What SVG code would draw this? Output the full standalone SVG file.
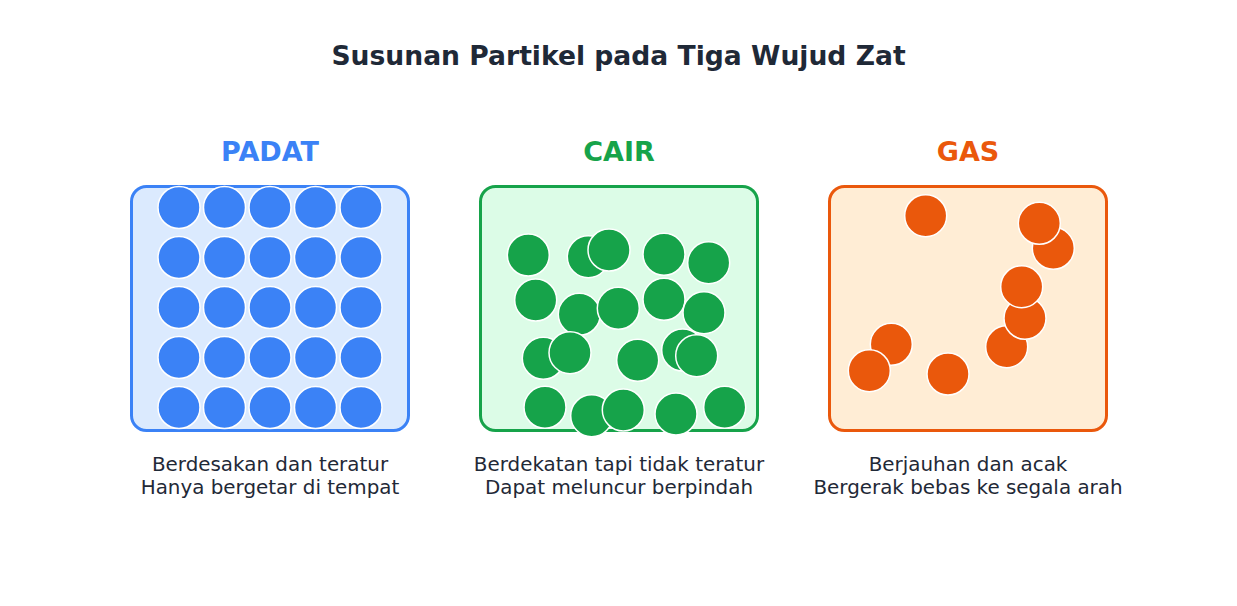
<svg xmlns="http://www.w3.org/2000/svg" width="1237" height="606" viewBox="0 0 1237 606">
<style>
  .title { font-family: "DejaVu Sans", sans-serif; font-weight: bold; font-size: 26.6px; fill: #1f2937; text-anchor: middle; }
  .head { font-family: "DejaVu Sans", sans-serif; font-weight: bold; font-size: 27px; text-anchor: middle; }
  .desc { font-family: "DejaVu Sans", sans-serif; font-size: 19.9px; fill: #1f2937; text-anchor: middle; }
  .box { stroke-width: 3; }
  .p circle { stroke: #ffffff; stroke-width: 1.5; }
  .solid .box { fill: #dbeafe; stroke: #3b82f6; }
  .solid circle { fill: #3b82f6; }
  .liquid .box { fill: #dcfce7; stroke: #16a34a; }
  .liquid circle { fill: #16a34a; }
  .gas .box { fill: #ffedd5; stroke: #ea580c; }
  .gas circle { fill: #ea580c; }
</style>
<rect width="1237" height="606" fill="#ffffff"/>
<text class="title" x="618.5" y="65">Susunan Partikel pada Tiga Wujud Zat</text>

<g id="padat" class="solid">
  <text class="head" x="270" y="161" fill="#3b82f6">PADAT</text>
  <rect class="box" x="131.5" y="186.5" width="277" height="244" rx="15"/>
  <g class="p">
    <circle cx="179" cy="207.5" r="21"/><circle cx="224.5" cy="207.5" r="21"/><circle cx="270" cy="207.5" r="21"/><circle cx="315.5" cy="207.5" r="21"/><circle cx="361" cy="207.5" r="21"/>
    <circle cx="179" cy="257.5" r="21"/><circle cx="224.5" cy="257.5" r="21"/><circle cx="270" cy="257.5" r="21"/><circle cx="315.5" cy="257.5" r="21"/><circle cx="361" cy="257.5" r="21"/>
    <circle cx="179" cy="307.5" r="21"/><circle cx="224.5" cy="307.5" r="21"/><circle cx="270" cy="307.5" r="21"/><circle cx="315.5" cy="307.5" r="21"/><circle cx="361" cy="307.5" r="21"/>
    <circle cx="179" cy="357.5" r="21"/><circle cx="224.5" cy="357.5" r="21"/><circle cx="270" cy="357.5" r="21"/><circle cx="315.5" cy="357.5" r="21"/><circle cx="361" cy="357.5" r="21"/>
    <circle cx="179" cy="407.5" r="21"/><circle cx="224.5" cy="407.5" r="21"/><circle cx="270" cy="407.5" r="21"/><circle cx="315.5" cy="407.5" r="21"/><circle cx="361" cy="407.5" r="21"/>
  </g>
  <text class="desc" x="270" y="471">Berdesakan dan teratur</text>
  <text class="desc" x="270" y="494">Hanya bergetar di tempat</text>
</g>

<g id="cair" class="liquid">
  <text class="head" x="619" y="161" fill="#16a34a">CAIR</text>
  <rect class="box" x="480.5" y="186.5" width="277" height="244" rx="15"/>
  <g class="p">
    <circle cx="528.3" cy="255" r="21"/>
    <circle cx="588.3" cy="256.7" r="21"/>
    <circle cx="609" cy="250" r="21"/>
    <circle cx="664" cy="254.3" r="21"/>
    <circle cx="708.7" cy="262.7" r="21"/>
    <circle cx="535.7" cy="300" r="21"/>
    <circle cx="579.3" cy="314.3" r="21"/>
    <circle cx="618.3" cy="308.3" r="21"/>
    <circle cx="664" cy="299.3" r="21"/>
    <circle cx="704" cy="312.7" r="21"/>
    <circle cx="543.3" cy="358.3" r="21"/>
    <circle cx="570" cy="352.7" r="21"/>
    <circle cx="637.7" cy="360.3" r="21"/>
    <circle cx="682.7" cy="350" r="21"/>
    <circle cx="696.7" cy="355.7" r="21"/>
    <circle cx="545" cy="407.3" r="21"/>
    <circle cx="591.7" cy="415.7" r="21"/>
    <circle cx="623.3" cy="410" r="21"/>
    <circle cx="676" cy="414" r="21"/>
    <circle cx="724.7" cy="407.3" r="21"/>
  </g>
  <text class="desc" x="619" y="471">Berdekatan tapi tidak teratur</text>
  <text class="desc" x="619" y="494">Dapat meluncur berpindah</text>
</g>

<g id="gas" class="gas">
  <text class="head" x="968" y="161" fill="#ea580c">GAS</text>
  <rect class="box" x="829.5" y="186.5" width="277" height="244" rx="15"/>
  <g class="p">
    <circle cx="1053.3" cy="248.3" r="21"/>
    <circle cx="1039.3" cy="223.3" r="21"/>
    <circle cx="1006.7" cy="346.7" r="21"/>
    <circle cx="1025" cy="318.3" r="21"/>
    <circle cx="1021.7" cy="286.7" r="21"/>
    <circle cx="891.3" cy="344.3" r="21"/>
    <circle cx="869.3" cy="370.7" r="21"/>
    <circle cx="925.7" cy="215.7" r="21"/>
    <circle cx="948" cy="374" r="21"/>
  </g>
  <text class="desc" x="968" y="471">Berjauhan dan acak</text>
  <text class="desc" x="968" y="494">Bergerak bebas ke segala arah</text>
</g>
</svg>
